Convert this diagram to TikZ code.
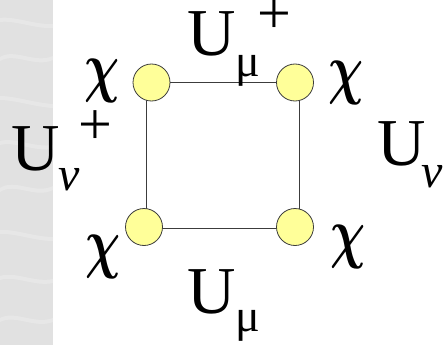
\documentclass[tikz,border=0pt]{standalone}
\usepackage{fontspec}
\setmainfont{Liberation Serif}
\definecolor{strip}{RGB}{225,225,225}
\definecolor{streak}{RGB}{236,236,236}
\definecolor{ball}{RGB}{255,255,153}
\definecolor{edge}{RGB}{60,60,60}
\tikzset{
  site/.style={circle,draw=edge,line width=0.8pt,fill=ball,minimum size=37pt,inner sep=0pt},
  link/.style={draw=edge,line width=0.9pt},
  chi/.style={inner sep=0pt,anchor=base},
  lab/.style={inner sep=0pt,anchor=base west,font=\fontsize{67}{67}\selectfont}
}
\newcommand{\chisym}{\scalebox{4.9}[6.8]{\boldmath$\chi$}}
\newcommand{\musub}[1]{\raisebox{-#1pt}{\fontsize{46}{46}\selectfont μ}}
\newcommand{\nusub}[1]{\raisebox{-#1pt}{\fontsize{48}{48}\selectfont\itshape ν}}
\newcommand{\highsup}[1]{\raisebox{#1pt}{\fontsize{60}{60}\selectfont +}}
\begin{document}
\begin{tikzpicture}[x=1pt,y=-1pt]
\useasboundingbox (0,0) rectangle (444,345);
\fill[strip] (0,0) rectangle (53,345);
\foreach \yy/\dx in {18/4,57/-3,96/6,141/2,188/-4,230/5,276/1,318/-2}{
  \fill[streak,opacity=0.6] (0,\yy) .. controls (15,\yy-6+\dx) and (35,\yy+7) .. (53,\yy+2+\dx)
    -- (53,\yy+6+\dx) .. controls (35,\yy+11) and (15,\yy-2+\dx) .. (0,\yy+4) -- cycle;
}
% corners of the plaquette
\coordinate (A) at (146,82);
\coordinate (B) at (299,82);
\coordinate (C) at (299,228);
\coordinate (D) at (146,228);
\draw[link] (A) -- (B) -- (C) -- (D) -- cycle;
\node[site] (tl) at (151.5,82.5) {};
\node[site] (tr) at (295,82.5) {};
\node[site] (bl) at (144,227) {};
\node[site] (br) at (295,227) {};
% chi labels
\node[chi] (chitl) at (102,89) {\chisym};
\node[chi] (chitr) at (346,92) {\chisym};
\node[chi] (chibl) at (103,265) {\chisym};
\node[chi] (chibr) at (348,255) {\chisym};
% link labels
\node[lab] (utop) at (187,56) {U\musub{21}\kern-3pt\highsup{22}};
\node[lab] (uleft) at (11,170) {U\kern-1pt\nusub{20}\kern-1pt\highsup{26}};
\node[lab] (uright) at (377,165) {U\kern-4pt\nusub{22}};
\node[lab] (ubot) at (187,313) {U\musub{18}};
\end{tikzpicture}
\end{document}
